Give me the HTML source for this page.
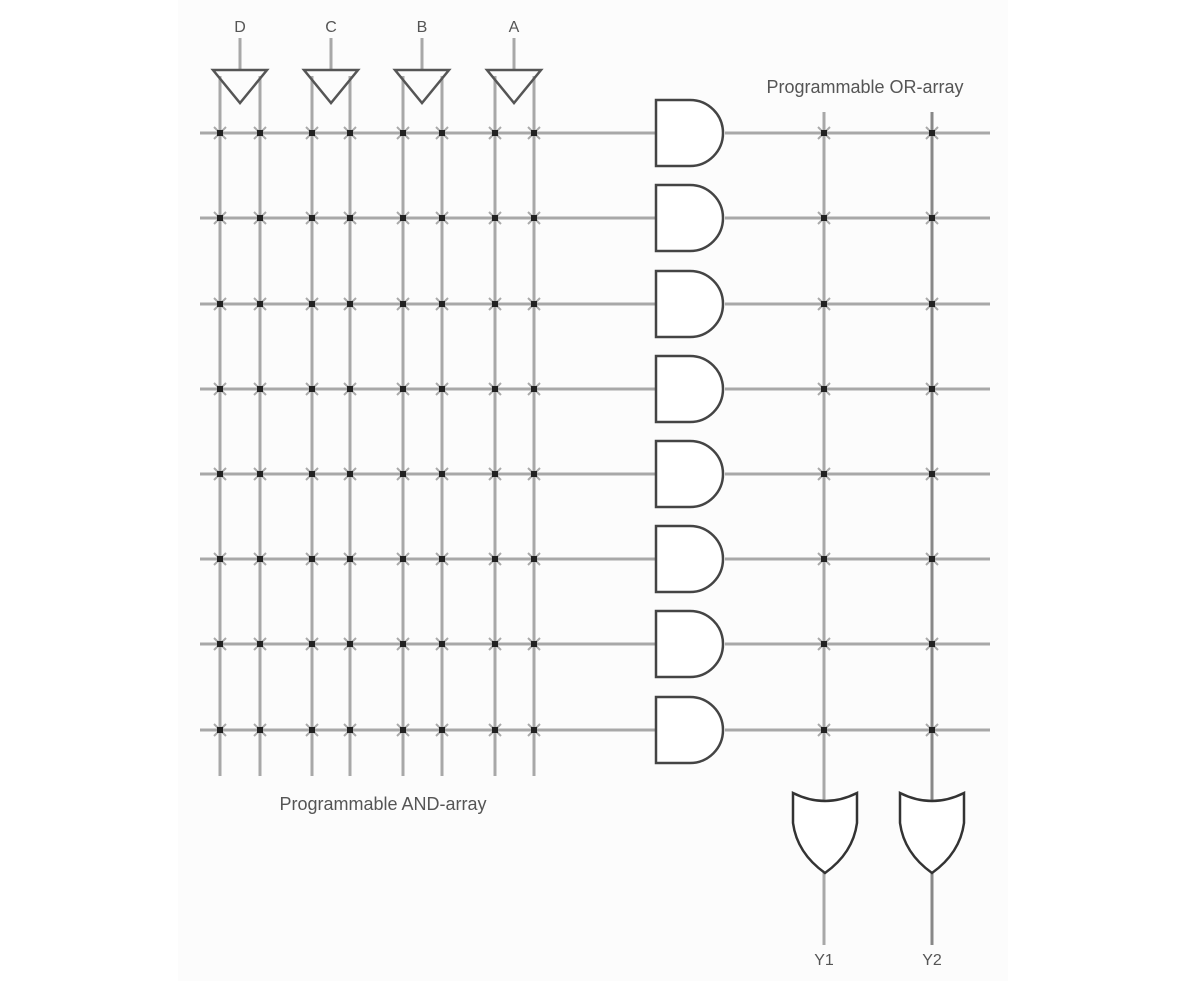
<!DOCTYPE html>
<html><head><meta charset="utf-8"><style>
html,body{margin:0;padding:0;background:#fff}
svg{display:block}
text{font-family:"Liberation Sans",sans-serif;fill:#555}
</style></head><body>
<svg width="1200" height="981" viewBox="0 0 1200 981" xmlns="http://www.w3.org/2000/svg">
<rect x="0" y="0" width="1200" height="981" fill="#fff"/>
<rect x="178" y="0" width="830" height="981" fill="#fcfcfc"/>
<defs>
  <g id="x">
    <path d="M-6,-6L6,6M-6,6L6,-6" stroke="#aaa" stroke-width="2"/>
    <rect x="-3" y="-3" width="6" height="6" fill="#222"/>
  </g>
  <g id="row">
    <line x1="200" y1="0" x2="655" y2="0" stroke="#a8a8a8" stroke-width="3"/>
    <line x1="725" y1="0" x2="990" y2="0" stroke="#a8a8a8" stroke-width="3"/>
    <path d="M656,-33 H690 A33,33 0 0 1 690,33 H656 Z" fill="#fff" stroke="#444" stroke-width="2.5"/>
    <use href="#x" x="220"/><use href="#x" x="260"/>
    <use href="#x" x="312"/><use href="#x" x="350"/>
    <use href="#x" x="403"/><use href="#x" x="442"/>
    <use href="#x" x="495"/><use href="#x" x="534"/>
    <use href="#x" x="824"/><use href="#x" x="932"/>
  </g>
  <g id="buf">
    <line x1="0" y1="38" x2="0" y2="70" stroke="#a8a8a8" stroke-width="3"/>
    <path d="M-27,70 H27 L0,103 Z" fill="none" stroke="#555" stroke-width="2.5"/>
  </g>
  <path id="org" d="M0,0 Q32,16 64,0 L64,30 Q60,60 32,80 Q4,60 0,30 Z" fill="#fff" stroke="#333" stroke-width="2.5"/>
</defs>
<!-- vertical lines -->
<g stroke="#a8a8a8" stroke-width="3">
  <line x1="220" y1="76" x2="220" y2="776"/><line x1="260" y1="76" x2="260" y2="776"/>
  <line x1="312" y1="76" x2="312" y2="776"/><line x1="350" y1="76" x2="350" y2="776"/>
  <line x1="403" y1="76" x2="403" y2="776"/><line x1="442" y1="76" x2="442" y2="776"/>
  <line x1="495" y1="76" x2="495" y2="776"/><line x1="534" y1="76" x2="534" y2="776"/>
  <line x1="824" y1="112" x2="824" y2="945"/>
</g>
<line x1="932" y1="112" x2="932" y2="945" stroke="#888" stroke-width="3"/>
<use href="#buf" x="240"/><use href="#buf" x="331"/><use href="#buf" x="422"/><use href="#buf" x="514"/>
<text x="240" y="32" font-size="16" text-anchor="middle">D</text>
<text x="331" y="32" font-size="16" text-anchor="middle">C</text>
<text x="422" y="32" font-size="16" text-anchor="middle">B</text>
<text x="514" y="32" font-size="16" text-anchor="middle">A</text>
<use href="#row" y="133"/><use href="#row" y="218"/><use href="#row" y="304"/><use href="#row" y="389"/>
<use href="#row" y="474"/><use href="#row" y="559"/><use href="#row" y="644"/><use href="#row" y="730"/>
<use href="#org" x="793" y="793"/><use href="#org" x="900" y="793"/>
<text x="865" y="93" font-size="18" text-anchor="middle">Programmable OR-array</text>
<text x="383" y="810" font-size="18" text-anchor="middle">Programmable AND-array</text>
<text x="824" y="965" font-size="16" text-anchor="middle">Y1</text>
<text x="932" y="965" font-size="16" text-anchor="middle">Y2</text>
</svg>
</body></html>
